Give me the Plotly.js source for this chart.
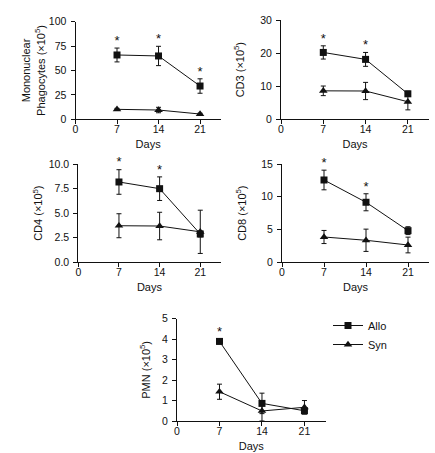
<!DOCTYPE html>
<html>
<head>
<meta charset="utf-8">
<script src="https://cdn.plot.ly/plotly-3.0.1.min.js"></script>
<style>html,body{margin:0;padding:0;background:#fff;}#chart{width:435px;height:453px;}</style>
</head>
<body>
<div id="chart"></div>
<script>
// ---- data ----
const days = [7, 14, 21];
const dayTicks = [0, 7, 14, 21];

const mpAllo = [65.9, 64.9, 34.1];
const mpAlloErr = [7.1, 9.9, 7.4];
const mpSyn = [10.2, 9.5, 5.4];
const mpSynErr = [1.0, 2.8, 0.8];
const mpStar = [true, true, true];

const cd3Allo = [20.2, 18.1, 7.7];
const cd3AlloErr = [2.0, 2.1, 0.8];
const cd3Syn = [8.6, 8.55, 5.3];
const cd3SynErr = [1.45, 2.6, 2.45];
const cd3Star = [true, true, false];

const cd4Allo = [8.17, 7.49, 2.88];
const cd4AlloErr = [1.25, 1.2, 0.3];
const cd4Syn = [3.72, 3.69, 3.1];
const cd4SynErr = [1.22, 1.4, 2.2];
const cd4Star = [true, true, false];

const cd8Allo = [12.56, 9.16, 4.83];
const cd8AlloErr = [1.5, 1.3, 0.6];
const cd8Syn = [3.86, 3.36, 2.64];
const cd8SynErr = [1.0, 1.7, 1.2];
const cd8Star = [true, true, false];

const pmnAllo = [3.89, 0.86, 0.5];
const pmnAlloErr = [0.12, 0.5, 0.15];
const pmnSyn = [1.43, 0.49, 0.67];
const pmnSynErr = [0.37, 0.49, 0.33];
const pmnStar = [true, false, false];

const seriesNames = ['Allo', 'Syn'];

// ---- layout helpers ----
const W = 435, H = 453;
const FONT = 'Liberation Sans, Arial, Helvetica, sans-serif';
const INK = '#111';

const panels = [
  {allo: mpAllo, alloErr: mpAlloErr, syn: mpSyn, synErr: mpSynErr, star: mpStar,
   ytitle: 'Mononuclear<br>Phagocytes (×10<sup>5</sup>)', yrange: [0, 100], ytick: [0, 25, 50, 75, 100], fmt: '',
   px: [75.5, 220.8], py: [21.7, 119.3], standoff: 1},
  {allo: cd3Allo, alloErr: cd3AlloErr, syn: cd3Syn, synErr: cd3SynErr, star: cd3Star,
   ytitle: 'CD3 (×10<sup>5</sup>)', yrange: [0, 30], ytick: [0, 10, 20, 30], fmt: '',
   px: [281, 429], py: [20, 119.3], standoff: 13},
  {allo: cd4Allo, alloErr: cd4AlloErr, syn: cd4Syn, synErr: cd4SynErr, star: cd4Star,
   ytitle: 'CD4 (×10<sup>5</sup>)', yrange: [0, 10], ytick: [0, 2.5, 5, 7.5, 10], fmt: '.1f',
   px: [78.3, 220.6], py: [164, 262.3], standoff: 3},
  {allo: cd8Allo, alloErr: cd8AlloErr, syn: cd8Syn, synErr: cd8SynErr, star: cd8Star,
   ytitle: 'CD8 (×10<sup>5</sup>)', yrange: [0, 15], ytick: [0, 5, 10, 15], fmt: '',
   px: [282, 429], py: [164, 262.3], standoff: 12},
  {allo: pmnAllo, alloErr: pmnAlloErr, syn: pmnSyn, synErr: pmnSynErr, star: pmnStar,
   ytitle: 'PMN (×10<sup>5</sup>)', yrange: [0, 5], ytick: [0, 1, 2, 3, 4, 5], fmt: '',
   px: [177, 325.7], py: [318.7, 421], standoff: 9}
];

const traces = [];
const layout = {
  width: W, height: H,
  margin: {l: 0, r: 0, t: 0, b: 0},
  paper_bgcolor: '#fff', plot_bgcolor: 'rgba(0,0,0,0)',
  font: {family: FONT, color: INK, size: 11},
  showlegend: true,
  legend: {x: 328 / W, y: 1 - 311 / H, xanchor: 'left', yanchor: 'top',
           font: {size: 11, family: FONT, color: INK}, itemwidth: 30,
           bgcolor: 'rgba(0,0,0,0)', tracegroupgap: 0},
};

panels.forEach((p, i) => {
  const n = i === 0 ? '' : String(i + 1);
  const xa = 'x' + n, ya = 'y' + n;
  const isLegend = i === 4;
  const mk = (vals, errs, name, symbol) => ({
    type: 'scatter', mode: 'lines+markers', x: days, y: vals, name: name,
    xaxis: xa, yaxis: ya, showlegend: isLegend, legendgroup: name,
    line: {color: INK, width: 1},
    marker: {symbol: symbol, size: symbol === 'square' ? 7 : 7.5, color: INK},
    error_y: {type: 'data', array: errs, visible: true, color: INK, thickness: 1, width: 2.5},
    cliponaxis: false
  });
  traces.push(mk(p.allo, p.alloErr, seriesNames[0], 'square'));
  traces.push(mk(p.syn, p.synErr, seriesNames[1], 'triangle-up'));
  const sx = [], sy = [];
  days.forEach((d, k) => { if (p.star[k]) { sx.push(d); sy.push(p.allo[k] + p.alloErr[k]); } });
  traces.push({type: 'scatter', mode: 'text', x: sx, y: sy, text: sx.map(() => '*'),
    textposition: 'top center', textfont: {size: 13, family: FONT, color: INK},
    xaxis: xa, yaxis: ya, showlegend: false, hoverinfo: 'skip', cliponaxis: false});

  const common = {showline: true, linecolor: INK, linewidth: 1, ticks: 'outside', ticklen: 4,
    tickwidth: 1, tickcolor: INK, showgrid: false, zeroline: false,
    tickfont: {size: 10.5, family: FONT, color: INK}, fixedrange: true};
  layout['xaxis' + n] = Object.assign({}, common, {
    domain: [p.px[0] / W, p.px[1] / W], range: [0, 24.5], anchor: ya,
    tickmode: 'array', tickvals: dayTicks, ticklabelstandoff: -4,
    title: {text: 'Days', font: {size: 11, family: FONT, color: INK}, standoff: 6}
  });
  layout['yaxis' + n] = Object.assign({}, common, {
    domain: [1 - p.py[1] / H, 1 - p.py[0] / H], range: p.yrange, anchor: xa,
    tickmode: 'array', tickvals: p.ytick, tickformat: p.fmt, ticklabelstandoff: 2,
    title: {text: p.ytitle, font: {size: 11, family: FONT, color: INK}, standoff: p.standoff}
  });
});

Plotly.newPlot('chart', traces, layout, {displayModeBar: false, staticPlot: true});
</script>
</body>
</html>
